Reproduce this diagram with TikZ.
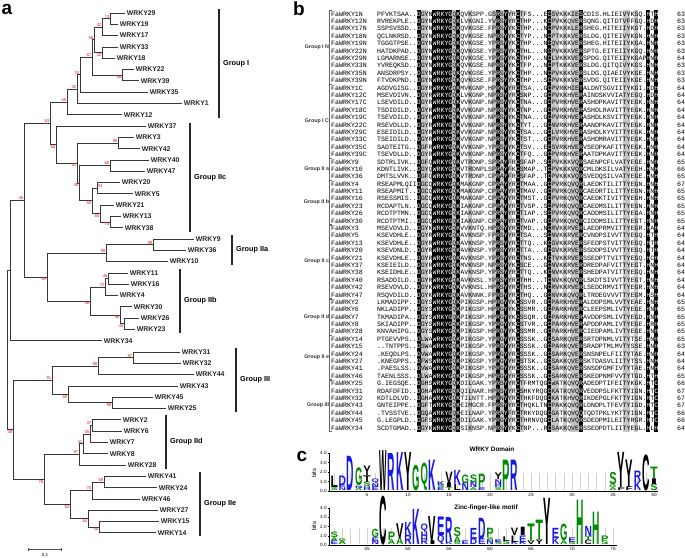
\documentclass[tikz,border=0pt]{standalone}
\usepackage{fontspec}
\setmainfont{Liberation Sans}
\newfontfamily\alnfont{Liberation Mono}
\usetikzlibrary{arrows.meta,calc}
\definecolor{bootred}{RGB}{228,32,32}
\definecolor{lblue}{RGB}{25,25,230}
\definecolor{lgreen}{RGB}{0,140,0}
\definecolor{br}{RGB}{55,55,55}
\newcommand{\ry}[1]{13+11.3*(#1)}   % tree leaf row -> y
\newcommand{\ay}[1]{14+7.39*(#1)}   % alignment row -> y
\newcommand{\cx}[1]{377+3.96*(#1)}  % alignment column -> x
% one logo letter: position, bottom (bits), height (bits), letter, colour
\newcommand{\lgl}[5]{%
  \pgfmathsetlengthmacro\lgh{#3*\lgb}%
  \node[inner sep=0pt,anchor=south,text=#5] at ({\lgx+8.2*#1},{\lgy-\lgb*#2}) {\resizebox*{7.4pt}{\lgh}{\bfseries #4}};}
\def\blackcols{10,14,15,16,17,18,20,30,32,35,43,51,68,70}
\def\graycols{11,12,19,23,29,31,33,36,44,45,47,49,50,62,63,65}
\def\alnrows{1N/{PFVKTSAA..DGYNWRKYGQKQVKSPP.GSRSYYRCTFS...ECSVKKKIESCDIS.HLIEIVYKSQ.HTH}/63,
12N/{RVREKPLE..DGYNWRKYGQKLVKGNI.YVRSYYRCTHP...KCPVKKQVERSQNG.QITDTVFFGQ.HDH}/63,
17N/{SSPSVSSD..DGYNWRKYGQKQVKGSE.FPRSYYKCTHP...NCPVKKKLERSHEG.HITEIIYKGT.HDH}/63,
18N/{QCLNKRSD..DGYNWRKYGQKQVKGSE.NPRSYYKCTYP...NCPTKKKVERSLDG.QITEIVYKGN.HNH}/63,
19N/{TGGGTPSE..DGYNWRKYGQKQVKGSE.YPRSYYKCTHP...NCQVKKKVERSHEG.HITEIIYKGA.HNH}/63,
22N/{HATDKPAD..DGYNWRKYGQKQVKGSE.YPRSYYKCTHL...NCPVKKKVERSPTG.EITEIIYKGQ.HNH}/63,
29N/{LGMARNSE..DGYNWRKYGQKQVKGSE.YPRSYYKCTHP...NCLVKKKVERSPDG.QITEIIYKGAPHNH}/64,
33N/{YVREQKSD..DGYNWRKYGQKQVKGSE.NPRSYYKCTFP...NCPTKKKVERSLDG.QITQIVYKGS.HNH}/63,
35N/{ANSDRPSY..DGYNWRKYGQKQVKGSE.YPRSYYKCTHP...NCPVKKKVERSLDG.QIAEIVYKGE.HNH}/63,
39N/{FTVDKPND..DGYNWRKYGQKQVKGSE.FPRSYYKCTHP...SCPVKKKVERSVDG.QITEIIYKGE.HNH}/63,
1C/{AGDVGISG..DGYRWRKYGQKMVKGNP.HPRNYYRCTSA...GCPVRKHIETALDNTSGVIITYKGI.HDH}/64,
12C/{MSEVDIVN..DGYRWRKYGQKLVKGNP.NPRSYYRCSNP...GCPVKKHVERAINDSKVVIATYEGQ.HDH}/64,
17C/{LSEVDILD..DGYRWRKYGQKVVKGNP.NPRSYYKCTNA...GCPVRKHVERASHDPKAVITTYEGK.HNH}/64,
18C/{TSDIDILD..DGYRWRKYGQKVVKGNP.NPRSYYKCTNP...GCPVRKHVERASHDLRAVITTYEGK.HNH}/64,
19C/{TSEVDILD..DGYRWRKYGQKVVKGNP.NPRSYYKCTNA...GCPVRKHVERASHDLKSVITTYEGK.HNH}/64,
22C/{RSEVDLLD..DGYRWRKYGQKVVKGNP.NPRSYYKCTYT...GCNVRKHVERAANDPKAVITTYEGK.HNH}/64,
29C/{ESEIDILD..DGYRWRKYGQKVVKGNP.NPRSYYKCTSA...GCLVRKHVERASHDLKYVITTYEGK.HNH}/64,
33C/{TSEIDILD..DGYRWRKYGQKVVKGNP.NPRSYYKCTST...GCPVRKHVERASHDMRAVITTYEGK.HNH}/64,
35C/{SADTEITG..DGFRWRKYGQKVVKGNP.YPRSYYKCTSV...ECSVRKHVERVSEDPKAFITTYEGK.HNH}/64,
39C/{TSEVDLLD..DGYRWRKYGQKVVKGNP.NPRSYYKCTFQ...GCPVRKHVERAATDPKAVITTYEGK.HNH}/64,
9/{SDTRLIVK..DGFQWRKYGQKVTRDNP.SPRAYFRCSFAP..SCPVKKKVQRSAENPCFLVATYEGE.HNH}/65,
10/{KDNTLIVK..DGYQWRKYGQKVTRDNPLSPRAYFKCSMAP..TCPVKKKVQRCMLDKSILVATYEGH.HNH}/66,
36/{DMTSLVVK..DGFQWRKYGQKVTRDNP.CPRAYFRCSFAP..TCPVKKKVQRSVEDQSILVATYEGE.HNH}/65,
4/{RSEAPMLQIIDGCQWRKYGQKMAKGNP.CPRAYYRCTMAA..GCPVRKQVQRLAEDKTILITTYEGN.HNH}/67,
11/{RSEAPMIT..DGCQWRKYGQKMAKGNP.CPRAYYRCTMAV..GCPVRKQVQRCAEDRTILITTYEGN.HNH}/65,
16/{RSESSMIS..DGCQWRKYGQKMAKGNP.CPRAYYRCTMST..GCPVRKQVQRCAEDKTIVITTYEGH.HNH}/65,
23/{RCDAPTLN..DGCQWRKYGQKIAKGNP.CPRAYYRCTVSP..SCPVRKQVQRCAEDMSILITTYEGN.HNH}/65,
26/{RCDTPTMN..DGCQWRKYGQKIAKGNP.CPRAYYRCTIAP..SCPVRKQVQRCADDMSILITTYEGA.HNH}/65,
30/{RCDTPTMI..DGCQWRKYGQKIAKGNP.CPRAYYRCTVAP..GCPVRKQVQRCIDDMSILITTYEGT.HNH}/65,
3/{MSEVDVLD..DGYKWRKYGQKVVKNTQ.HPRSYYRCTMD...NCRVKKRVERLAEDPRMVITTYEGR.HAH}/64,
5/{KSEVDHLE..DGYRWRKYGQKAVKNSP.FPRSYYRCTSA...SCNVKKRVERCVNDPSIVVTTYEGQ.HTH}/64,
13/{KSEVDHLE..DGYRWRKYGQKAVKNSP.YPRSYYRCTTQ...KCGVKKRVERSFEDPSTVITTYEGQ.HTH}/64,
20/{KSEVDNLD..DGYRWRKYGQKAVKNSP.YPRSYYRCTTA...GCGVKKRVERSSDDPSIVVTTYEGQ.HTH}/64,
21/{KSEVDHLE..DGYRWRKYGQKAVKNSP.YPRSYYRCTNS...KCTVKKRVERSSEDPTTVITTYEGQ.HCH}/64,
37/{KSEIEILD..DGYRWRKYGQKMVKNSP.NPRSYYKCSCE...GCNVKKRVERDREDPAFVITTYEGT.HNH}/64,
38/{KSEIDHLE..DGYRWRKYGQKAVKNSP.YPRSYYRCTTQ...KCNVKKRVERSHEDPATVITTYEGQ.HNH}/64,
40/{RSADDILD..DGYRWRKYGQKAVKNSL.YPRSYYRCTHH...TCNVKKQVQRLSKDTSIVVTTYEGT.HNH}/64,
42/{RSEVDVLD..DGYKWRKYGQKVVKNSL.HPRSYYRCTHS...NCRVKKRVERLSEDCRMVITTYEGR.HNH}/64,
47/{RSQVDILD..DGYKWRKYGQKAVKNNK.FPRSYYRCTHQ...GCNVKKQVQRLTRDEGVVVTTYEGM.HSH}/64,
2/{LKMADIPP..DGYSWRKYGQKPIKGSP.HPRGYYKCSSVR..GCPARKHVERALDDPSMLVVTYEAE.HNH}/65,
6/{NKLADIPP..DGYSWRKYGQKPIKGSP.HPRGYYKCSSMR..GCPARKHVERCLEEPSMLIVTYEGE.HNH}/65,
7/{TKMADIPA..DGYSWRKYGQKPIKGSP.HPRGYYKCSSQR..GCPARKHVERAVDDPSMLIVTYEGD.HNH}/65,
8/{SKIADIPP..DGYSWRKYGQKPIKGSP.YPRGYYKCSTVR..GCPARKHVERAPDDPAMLIVTYEGE.HRH}/65,
28/{KNVAHIPG..DGYSWRKYGQKPIKGSP.HPRGYYKCSSMR..GCPARKHVERCIEDPAMLIVTYEGE.HNH}/65,
14/{PTGEVVPS..DLWAWRKYGQKPIKGSP.YPRGYYRCSSSK..GCSARKQVERSRTDPNMLVITYTSE.HNH}/65,
15/{..TNTPPS..DSWAWRKYGQKPIKGSP.YPRGYYRCSSSK..GCPARKQVERSRADPTMLMVTYSSE.HNH}/63,
24/{.KEQDLPS..DVWAWRKYGQKPIKGSP.YPRGYYRCSSSK..GCSARKQVERSNSNPELFIITYTAE.HNH}/64,
27/{.KNEGPPS..DFWSWRKYGQKPIKGSP.YPRGYYRCSTSK..GCSAKKQVERSKTDASVLIITYTSS.HNH}/64,
41/{.PAESLSS..DVWAWRKYGQKPIKGSP.YPRGYYRCSSSK..GCSARKQVERSNSDPGMFIVTYTAE.HNH}/64,
46/{TAENLSSS..DLWAWRKYGQKPIKGSP.HPRGYYRCSSSK..GCSARKQVERSKEDPNMFVVTYTGD.HTH}/65,
25/{G.IEGSQE..DGHSWRKYGQKDILGAK.YPRSYYRCTFRMTQGCWATKQVQRADEDPTIFEITYKGK.HTC}/66,
31/{RDAFDFID..DGHAWRKYGQKQILNAR.HPRSYYRCSHKYRQGCKATKQVQRVEDDPSLFKTTYIGN.HTC}/67,
32/{KDTLDLVD..DGHAWRKYGQKTILNTT.HPRNYYRCTHKFDQGCKATKHVQRIKDEPGLFKTTYIGN.HTC}/67,
43/{GNTEIPPE..DGFTWRKYGQKEIMGCR.FPRSYYRCTHQKLTNCPAKKQVQRLDNDPLTFEVTYIGD.HTC}/67,
44/{.TVSSTVE..DGQAWRKYGQKEILNAP.YPRAYFRCTRKYDQGCGATKQVQQTQDTPKLYKTTYIGN.HTC}/66,
45/{G.LEGPLD..DGFSWRKYGQKDILGAK.YPRGYYRCTHRNVQGCLATKQVQRSDEDPMILEITYRGR.HTC}/66,
34/{SCDTGMAD..DGYKWRKYGQKSIKNSP.NPRSYYKCTNP...RCSAKKQVERSSEDPDTLIITYEGL.HLH}/64}

\begin{document}
\begin{tikzpicture}[x=1pt,y=-1pt,
  branch/.style={draw=br,line width=0.8pt},
  leaf/.style={anchor=west,inner xsep=1.6pt,inner ysep=0pt,font=\bfseries\fontsize{6.9}{7}\selectfont,text=black!85},
  boot/.style={inner sep=0.4pt,font=\fontsize{4.4}{4.5}\selectfont,text=bootred},
  grpbar/.style={line width=1.1pt,black!85},
  grp/.style={anchor=west,inner sep=0pt,font=\bfseries\fontsize{7.3}{8}\selectfont},
  aln/.style={anchor=base west,inner sep=0pt,font=\alnfont\fontsize{6.6}{6.6}\selectfont},
  glab/.style={anchor=east,inner sep=0.3pt,font=\bfseries\fontsize{5.3}{6}\selectfont,text=black!80},
  brk/.style={draw=black!60,line width=0.6pt},
  panel/.style={inner sep=0pt,font=\bfseries\fontsize{19}{20}\selectfont},
  tick/.style={inner sep=0.5pt,font=\fontsize{4.6}{5}\selectfont},
  ltitle/.style={inner sep=0pt,font=\bfseries\fontsize{6.4}{7}\selectfont},
  ebar/.style={draw=gray!35,line width=0.3pt},
  axis/.style={draw=black,line width=0.45pt}]
  \useasboundingbox (0,0) rectangle (685,557);
  \fill[white] (0,0) rectangle (685,557);
  \node[panel] (pa) at (7,9) {a};
  \node[panel] (pb) at (299,9) {b};
  \node[panel] (pc) at (302,456) {c};

  % a: tree leaves
  \foreach \nm/\tx [count=\i from 0] in {29/125,19/118,17/118,33/118,18/115,22/134,39/139,35/148,1/182,12/122,
      37/146,3/134,42/140,40/149,47/145,20/120,5/133,21/114,13/121,38/123,9/194,36/186,10/168,
      11/128,16/129,4/118,30/132,26/139,23/135,34/102,31/180,32/181,44/194,43/178,45/153,25/166,
      2/121,6/122,7/108,8/108,28/126,41/146,24/157,46/140,27/158,15/159,14/156} {
    \coordinate (t\nm) at (\tx,{\ry{\i}});
    \node[leaf] (W\nm) at (t\nm) {WRKY\nm};
  }
  % internal nodes: name/x/row
  \foreach \n/\x/\k in {n1/110/0.5,n2/102/1.25,n3/102/3.5,n4/94/2.375,n5/122/5.5,n6/92/3.94,n7/80/5.47,
      n8/77/6.73,n9/67/7.87,n12/118/11.5,n13/110/13.5,n17/97/15.5,n19/110/18.5,n18/100/17.75,
      n16/92/16.625,n15/79/15.06,n14/77/13.28,n11/56/11.64,n10/50/9.75,n25/153/20.5,n24/106/21.25,
      n28/108/23.5,n27/105/24.25,n30/124/27.5,n29/120/26.75,n26/90/25.5,n23/47/23.375,n21/24/16.56,
      n22/10/22.78,n33/133/30.5,n32/98/31.25,n35/112/34.5,n34/68/33.75,n31/52/32.5,n39/92/36.5,
      n38/90/37.25,n37/83/38.125,n36/79/39.06,n43/104/41.5,n41/92/42.25,n44/99/45.5,n42/88/44.75,
      n40/70/43.5,n45/44/41.28,r2/13/36.89,r/7/29.84}
    \coordinate (\n) at (\x,{\ry{\k}});
  \foreach \p/\c in {n1/t29,n1/t19,n2/n1,n2/t17,n3/t33,n3/t18,n4/n2,n4/n3,n5/t22,n5/t39,n6/n4,n6/n5,
      n7/n6,n7/t35,n8/n7,n8/t1,n9/n8,n9/t12,n12/t3,n12/t42,n13/t40,n13/t47,n17/t20,n17/t5,n19/t13,
      n19/t38,n18/t21,n18/n19,n16/n17,n16/n18,n15/n13,n15/n16,n14/n12,n14/n15,n11/t37,n11/n14,
      n10/n9,n10/n11,n25/t9,n25/t36,n24/n25,n24/t10,n28/t11,n28/t16,n27/n28,n27/t4,n30/t26,n30/t23,
      n29/t30,n29/n30,n26/n27,n26/n29,n23/n24,n23/n26,n21/n10,n21/n23,n22/n21,n22/t34,n33/t31,
      n33/t32,n32/n33,n32/t44,n35/t45,n35/t25,n34/t43,n34/n35,n31/n32,n31/n34,n39/t2,n39/t6,
      n38/n39,n38/t7,n37/n38,n37/t8,n36/n37,n36/t28,n43/t41,n43/t24,n41/n43,n41/t46,n44/t15,
      n44/t14,n42/t27,n42/n44,n40/n41,n40/n42,n45/n36,n45/n40,r2/n31,r2/n45,r/n22,r/r2}
    \draw[branch] (\p) |- (\c);
  % bootstrap values
  \foreach \n/\v/\a in {n1/74/south east,n2/42/south east,n3/42/north east,n4/56/south east,
      n5/98/north east,n6/67/south east,n7/24/south east,n8/32/south east,n9/55/south east,
      n10/63/south east,n11/55/north east,n12/99/south east,n13/60/south east,n14/81/north east,
      n15/45/north east,n17/34/south west,n16/50/north east,n18/65/north east,n19/75/north east,
      n25/99/south east,n24/99/south east,n28/46/south east,n27/72/south east,n26/98/north east,
      n29/98/north east,n30/45/north east,n23/69/north east,n21/45/south east,n33/97/south east,
      n32/98/south east,n31/91/south east,n35/98/north east,n34/60/north east,r2/38/north east,
      n39/37/south east,n38/55/south east,n37/41/south east,n36/97/south east,n45/76/north east,
      n43/59/south east,n41/75/south east,n40/82/north east,n42/64/north east,n44/58/north east}
    \node[boot,anchor=\a] (b\n) at (\n) {\v};
  % group bars
  \foreach \g/\x/\ya/\yb/\gl in {gI/219/9/118/Group I,gIIc/190/123/232/Group IIc,gIIa/232/235/265/Group IIa,
      gIIb/180/269/333/Group IIb,gIII/236/348/412/Group III,gIId/166/415/469/Group IId,
      gIIe/200/472/536/Group IIe} {
    \draw[grpbar] (\x,\ya) -- (\x,\yb);
    \node[grp] (\g) at (\x+4,{(\ya+\yb)/2}) {\gl};
  }
  % scale bar
  \coordinate (sb0) at (28,549); \coordinate (sb1) at (62,549);
  \draw[black!70,line width=0.6pt,{Bar[width=3pt]}-{Bar[width=3pt]}] (sb0) -- (sb1);
  \node[tick] (sbl) at (45,555) {0.1};

  % b: alignment
  \foreach \c in \graycols
    \fill[gray!45] ({\cx{\c}},{\ay{0}-3.7}) rectangle ({\cx{\c+1}},{\ay{56}+3.7});
  \foreach \c in \blackcols
    \fill[black] ({\cx{\c}},{\ay{0}-3.7}) rectangle ({\cx{\c+1}+0.05},{\ay{56}+3.7});
  \foreach \nm/\sq/\ln [count=\rw from 0] in \alnrows {
    \node[aln] (f\rw) at (331,{\ay{\rw}+2.2}) {FaWRKY\nm};
    \node[aln] (s\rw) at (377,{\ay{\rw}+2.2}) {\sq};
    \node[aln] (c\rw) at (677,{\ay{\rw}+2.2}) {\ln};
  }
  \begin{scope}
    \clip \foreach \c in \blackcols {({\cx{\c}},{\ay{0}-3.7}) rectangle ({\cx{\c+1}+0.05},{\ay{56}+3.7})};
    \foreach \nm/\sq/\ln [count=\rw from 0] in \alnrows
      \node[aln,text=white] (w\rw) at (377,{\ay{\rw}+2.2}) {\sq};
  \end{scope}
  \foreach \ga/\gb/\gl in {0/9/Group I N,10/19/Group I C,20/22/Group II a,23/28/Group II b,
      29/38/Group II c,39/43/Group II d,44/49/Group II e,50/56/Group III} {
    \draw[brk] (331.5,{\ay{\ga}-3.4}) -- (329.5,{\ay{\ga}-3.4}) -- (329.5,{\ay{\gb}+3.4}) -- (331.5,{\ay{\gb}+3.4});
    \node[glab] (g\ga) at (329.5,{\ay{(\ga+\gb)/2}}) {\gl};
  }

  % c: WRKY domain logo
  \def\lgx{326}\def\lgy{491}\def\lgb{9.5}
  \node[ltitle] (tw) at (492,449) {WRKY Domain};
  \foreach \p in {1,...,40}
    \draw[ebar] ({\lgx+8.2*\p},{\lgy-0.1*\lgb}) -- ({\lgx+8.2*\p},{\lgy-1.9*\lgb});
  \foreach \p/\b/\h/\l/\c in {1/0/0.3/S/lgreen,1/0.3/1.2/L/black,2/0/0.3/N/lblue,2/0.3/0.3/E/lblue,
      2/0.6/1.0/D/lblue,3/0/3.6/D/lblue,4/0/0.25/A/lgreen,4/0.25/0.25/N/lblue,4/0.5/1.9/G/lgreen,
      5/0/0.4/H/lblue,5/0.4/0.5/S/lgreen,5/0.9/0.7/T/black,5/1.6/1.0/Y/black,6/0/0.4/E/lblue,
      6/0.4/0.4/N/lblue,6/0.8/0.5/Q/lblue,7/0/4.2/W/black,8/0/3.9/R/lblue,9/0/4.0/K/lblue,
      10/0/4.0/Y/black,11/0/2.7/G/lgreen,12/0/2.9/Q/lgreen,13/0/3.2/K/lblue,14/0/0.3/E/lblue,
      14/0.3/0.3/S/lgreen,14/0.6/0.4/K/lblue,15/0/0.3/T/lgreen,15/0.3/0.5/I/black,15/0.8/1.2/V/black,
      16/0/0.6/L/black,16/0.6/1.6/K/lblue,17/0/0.8/N/lblue,17/0.8/0.9/G/lgreen,18/0/0.3/A/lgreen,
      18/0.3/0.6/N/lblue,18/0.9/0.8/S/lgreen,19/0/0.3/E/lblue,19/0.3/1.4/P/lgreen,21/0/0.3/S/lgreen,
      21/0.3/0.4/H/lblue,21/0.7/0.5/N/lblue,21/1.2/0.7/Y/black,22/0/3.2/P/lgreen,23/0/3.2/R/lblue,
      35/0/0.3/A/lgreen,35/0.3/0.3/G/lgreen,35/0.6/1.3/S/lgreen,36/0/0.3/F/black,36/0.3/3.7/Y/black,
      37/0/0.4/F/black,37/0.4/2.9/Y/black,38/0/1.0/K/lblue,38/1.0/1.1/R/lblue,39/0/3.8/C/black,
      40/0/0.7/S/lgreen,40/0.7/0.6/I/black,40/1.3/1.2/T/lgreen}
    \lgl{\p}{\b}{\h}{\l}{\c}
  \draw[axis] (329,\lgy) -- (329,{\lgy-4*\lgb});
  \draw[axis] (329,\lgy) -- (658,\lgy);
  \foreach \k in {0,...,4} {
    \draw[axis] (327.5,{\lgy-\k*\lgb}) -- (329,{\lgy-\k*\lgb});
    \node[tick,anchor=east] (ty\k) at (327.3,{\lgy-\k*\lgb}) {\k.0};
  }
  \foreach \p in {1,...,40} \draw[axis] ({\lgx+8.2*\p},\lgy) -- ++(0,1.3);
  \foreach \p in {5,10,...,40} \node[tick,anchor=north] (tx\p) at ({\lgx+8.2*\p},{\lgy+1.6}) {\p};
  \node[tick,rotate=90,font=\fontsize{6}{6}\selectfont] (bt) at (314,473) {bits};

  % c: zinc-finger-like motif logo
  \def\lgx{-2}\def\lgy{545}\def\lgb{9.25}
  \node[ltitle] (tz) at (486,508) {Zinc-finger-like motif};
  \foreach \p in {41,...,75}
    \draw[ebar] ({\lgx+8.2*\p},{\lgy-0.1*\lgb}) -- ({\lgx+8.2*\p},{\lgy-1.8*\lgb});
  \foreach \p/\b/\h/\l/\c in {41/0/0.4/E/lblue,41/0.4/0.4/A/lgreen,41/0.8/0.6/S/lgreen,
      42/0/0.4/A/lgreen,42/0.4/0.3/G/lgreen,46/0/0.4/N/lblue,46/0.4/0.4/E/lblue,46/0.8/0.9/G/lgreen,
      47/0/5.3/C/black,48/0/0.5/A/lgreen,48/0.5/0.9/P/lgreen,49/0/0.7/A/lgreen,49/0.7/1.6/V/black,
      50/0/1.0/R/lblue,50/1.0/1.4/K/lblue,51/0/3.8/K/lblue,52/0/0.6/R/lblue,52/0.6/0.8/H/lblue,
      52/1.4/0.9/Q/lblue,53/0/0.4/I/black,53/0.4/2.7/V/black,54/0/1.0/Q/lblue,54/1.0/2.0/E/lblue,
      55/0/0.3/K/lblue,55/0.3/2.7/R/lblue,56/0/0.3/S/lgreen,56/0.3/0.6/A/lgreen,56/0.9/1.0/S/lgreen,
      57/0/0.4/E/lblue,58/0/0.6/D/lblue,58/0.6/1.2/E/lblue,59/0/0.6/E/lblue,59/0.6/2.3/D/lblue,
      60/0/0.5/N/lblue,60/0.5/0.3/S/lgreen,60/0.8/1.0/P/lgreen,61/0/0.3/S/lgreen,61/0.3/0.3/E/lblue,
      62/0/0.4/S/lgreen,62/0.4/0.5/L/black,63/0/0.3/K/lblue,63/0.3/0.7/L/black,63/1.0/0.8/V/black,
      64/0/0.3/K/lblue,64/0.3/0.7/E/lblue,64/1.0/0.9/I/black,65/0/0.4/V/black,65/0.4/1.9/T/lgreen,
      66/0/0.5/Y/black,66/0.5/2.2/T/lgreen,67/0/5.0/Y/black,68/0/0.7/K/lblue,68/0.7/1.1/E/lblue,
      69/0/0.4/A/lgreen,69/0.4/1.8/G/lgreen,70/0/0.3/S/lgreen,70/0.3/0.5/E/lblue,71/0/4.8/H/lgreen,
      72/0/0.5/C/black,72/0.5/0.4/T/lgreen,72/0.9/1.1/N/lblue,73/0/3.5/H/lgreen,74/0/0.4/S/lgreen,
      74/0.4/0.6/P/lgreen}
    \lgl{\p}{\b}{\h}{\l}{\c}
  \draw[axis] (329,\lgy) -- (329,{\lgy-4*\lgb});
  \draw[axis] (329,\lgy) -- (617,\lgy);
  \foreach \k in {0,...,4} {
    \draw[axis] (327.5,{\lgy-\k*\lgb}) -- (329,{\lgy-\k*\lgb});
    \node[tick,anchor=east] (tz\k) at (327.3,{\lgy-\k*\lgb}) {\k.0};
  }
  \foreach \p in {41,...,75} \draw[axis] ({\lgx+8.2*\p},\lgy) -- ++(0,1.3);
  \foreach \p in {45,50,...,75} \node[tick,anchor=north] (bx\p) at ({\lgx+8.2*\p},{\lgy+1.6}) {\p};
  \node[tick,rotate=90,font=\fontsize{6}{6}\selectfont] (bb) at (314,526) {bits};
\end{tikzpicture}
\end{document}
